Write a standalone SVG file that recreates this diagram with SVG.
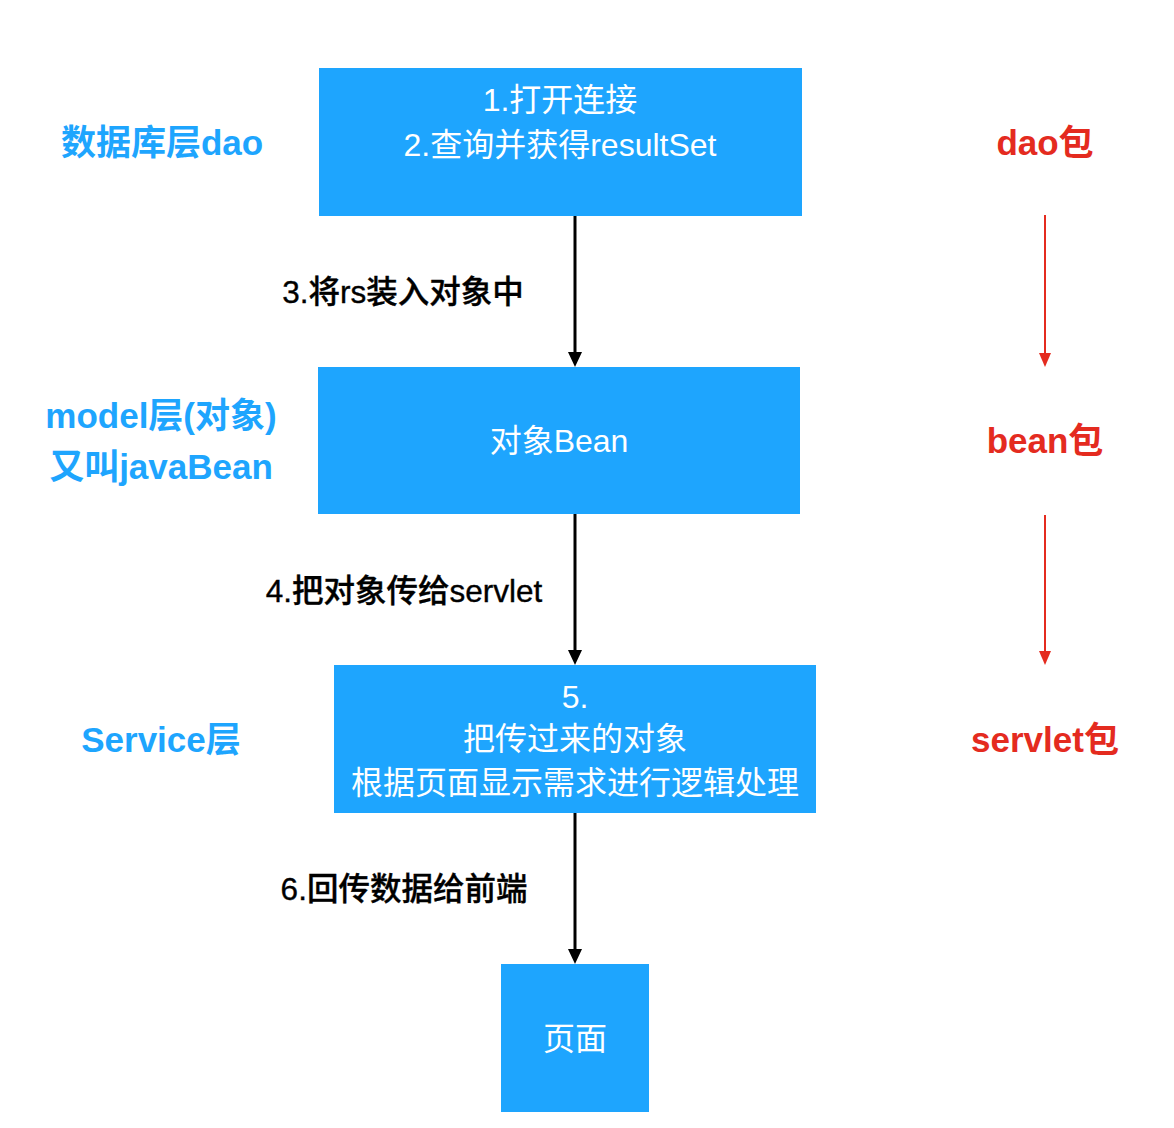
<svg xmlns="http://www.w3.org/2000/svg" width="1174" height="1128" viewBox="0 0 1174 1128">
<style>
.box{fill:#1EA5FE}
.bt{font-family:"Liberation Sans","Noto Sans CJK SC",sans-serif;font-size:32px;fill:#fff;text-anchor:middle}
.lt{font-family:"Liberation Sans","Noto Sans CJK SC",sans-serif;font-size:35px;font-weight:bold;fill:#1EA5FE;text-anchor:middle}
.rt{font-family:"Liberation Sans","Noto Sans CJK SC",sans-serif;font-size:35px;font-weight:bold;fill:#E42B1F;text-anchor:middle}
.et{font-family:"Liberation Sans","Noto Sans CJK SC",sans-serif;font-size:31.5px;fill:#000;stroke:#000;stroke-width:0.35;text-anchor:middle;font-weight:500}
.bl{stroke:#000;stroke-width:3;fill:none}
.rl{stroke:#E42B1F;stroke-width:2;fill:none}
</style>
<rect width="1174" height="1128" fill="#fff"/>
<g id="connectors">
<line class="bl" x1="575" y1="216" x2="575" y2="352"/>
<path d="M568,352 L582,352 L575,367 Z" fill="#000"/>
<line class="bl" x1="575" y1="514" x2="575" y2="650"/>
<path d="M568,650 L582,650 L575,665 Z" fill="#000"/>
<line class="bl" x1="575" y1="813" x2="575" y2="949"/>
<path d="M568,949 L582,949 L575,964 Z" fill="#000"/>
<line class="rl" x1="1045" y1="215" x2="1045" y2="354"/>
<path d="M1039,353 L1051,353 L1045,367 Z" fill="#E42B1F"/>
<line class="rl" x1="1045" y1="515" x2="1045" y2="652"/>
<path d="M1039,651 L1051,651 L1045,665 Z" fill="#E42B1F"/>
<text class="et" x="403" y="303">3.将rs装入对象中</text>
<text class="et" x="404" y="602">4.把对象传给servlet</text>
<text class="et" x="404" y="900">6.回传数据给前端</text>
</g>
<g id="node-dao">
<rect class="box" x="319" y="68" width="483" height="148"/>
<text class="bt" x="560" y="111">1.打开连接</text>
<text class="bt" x="560" y="156">2.查询并获得resultSet</text>
</g>
<g id="node-bean">
<rect class="box" x="318" y="367" width="482" height="147"/>
<text class="bt" x="559" y="452">对象Bean</text>
</g>
<g id="node-service">
<rect class="box" x="334" y="665" width="482" height="148"/>
<text class="bt" x="575" y="708">5.</text>
<text class="bt" x="575" y="750">把传过来的对象</text>
<text class="bt" x="575" y="794">根据页面显示需求进行逻辑处理</text>
</g>
<g id="node-page">
<rect class="box" x="501" y="964" width="148" height="148"/>
<text class="bt" x="575" y="1050">页面</text>
</g>
<g id="left-labels">
<text class="lt" x="162" y="155">数据库层dao</text>
<text class="lt" x="161" y="428">model层(对象)</text>
<text class="lt" x="161" y="479">又叫javaBean</text>
<text class="lt" x="161" y="752">Service层</text>
</g>
<g id="right-labels">
<text class="rt" x="1045" y="155">dao包</text>
<text class="rt" x="1045" y="453">bean包</text>
<text class="rt" x="1045" y="752">servlet包</text>
</g>
</svg>
